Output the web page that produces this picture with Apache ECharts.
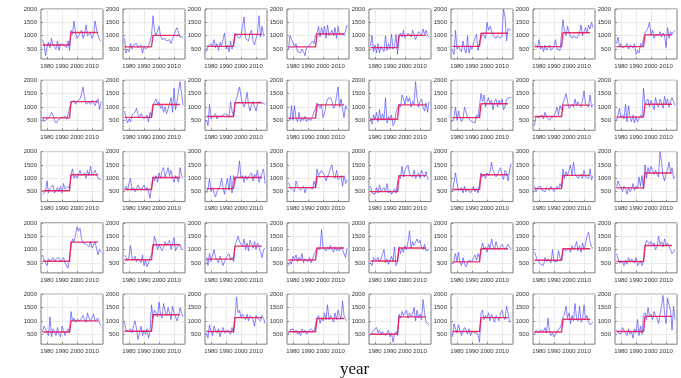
<!DOCTYPE html>
<html>
<head>
<meta charset="UTF-8">
<script src="https://cdn.jsdelivr.net/npm/echarts@6/dist/echarts.min.js"></script>
<style>
  html, body { margin: 0; padding: 0; background: #fff; }
  #chart { width: 681px; height: 378px; }
</style>
</head>
<body>
<div id="chart"></div>
<script>
// years of the annual series
const years = [];
for (let y = 1977; y <= 2016; y++) years.push(y);

const xTicks = [1980, 1990, 2000, 2010];
const yTicks = [500, 1000, 1500, 2000];

// annual values, one list per panel (row by row, 8 panels per row)
const p01 = [850,700,250,600,750,550,900,650,700,500, 800,450,700,750,650,700,550,800,450,1200, 1050,1550,1100,900,1000,950,1200,900,1050,1400, 1000,950,1100,900,1000,1550,1250,1000,850,800];
const p02 = [900,350,500,400,700,500,650,600,700,550, 500,650,350,600,500,450,600,550,1000,1750, 1200,1000,1050,1350,1000,850,800,900,800,750, 850,700,900,1000,1200,1300,1250,950,1000,950];
const p03 = [400,600,650,700,600,850,550,700,450,750, 600,650,1100,500,650,400,800,500,700,1100, 1000,1050,900,1000,1000,1700,900,850,800,1100, 1200,800,650,900,1100,1750,950,1350,1000,1050];
const p04 = [500,1000,850,750,600,700,400,450,350,500, 400,250,550,500,650,600,800,700,1000,1100, 1350,950,1300,1050,1350,900,1400,1000,1050,1200, 1000,1300,900,1350,1050,1000,1100,1000,1200,1400];
const p05 = [600,1000,400,650,350,700,350,600,650,400, 1000,450,700,500,1050,500,600,1050,300,1000, 1100,950,1200,900,1000,1100,1150,950,1200,1050, 850,1000,1150,1100,1000,1250,1050,1200,1000,950];
const p06 = [450,300,1200,500,600,550,400,800,500,350, 1000,350,600,500,450,900,1050,450,800,900, 1100,1000,900,1500,1200,1350,1300,1000,950,900, 1000,950,900,1000,2000,1700,800,1250,1300,1200];
const p07 = [700,750,550,850,500,600,400,650,450,500, 650,450,500,600,850,500,550,450,1050,1600, 1150,1000,1350,1100,1050,900,1000,950,900,950, 1100,1400,1000,1150,1300,1100,1400,1250,1500,1300];
const p08 = [700,950,600,700,550,500,600,700,500,650, 600,550,700,300,450,350,700,600,900,1100, 1050,1300,1500,1000,1200,900,1050,1100,1000,1150, 950,1100,1000,550,1300,900,1150,1050,1150,1200];

const p09 = [600,450,500,550,600,650,800,700,500,400, 350,550,500,600,550,650,550,700,650,1150, 1200,1250,1100,1200,1250,1300,1500,1750,1350,1100, 1150,1200,1100,1250,1150,1050,1200,1300,900,1200];
const p10 = [850,600,400,550,450,700,650,800,950,700, 600,750,650,550,500,700,450,800,600,1050, 1200,1300,1100,1200,950,1050,800,1000,750,800, 1100,1350,800,1700,900,1200,1600,1950,1500,1050];
const p11 = [500,300,1100,550,650,600,750,550,650,700, 650,600,750,800,700,600,1200,850,650,1200, 1300,1550,1750,1400,1150,1000,1200,1550,1100,850, 1100,1200,1000,850,1100,1200,1150,1150,1100,1100];
const p12 = [600,500,1050,500,1050,550,450,800,450,600, 500,650,450,550,600,500,650,600,950,1150, 1100,950,1100,600,750,1100,1300,1250,1350,1200, 950,1050,1400,1750,1000,1300,1350,600,1050,900];
const p13 = [600,350,700,550,800,450,900,500,750,500, 1350,400,650,500,700,300,400,800,850,1100, 1000,1450,1300,1100,1400,1200,1350,1000,1200,1100, 1950,1350,1000,1200,1300,1000,850,1150,800,1200];
const p14 = [450,600,1000,500,850,600,450,550,1000,800, 650,550,600,450,500,400,700,600,550,1500, 1200,1450,1000,1200,1350,1100,1250,900,1200,1300, 1000,1250,1100,1300,900,1000,1300,1250,1350,1350];
const p15 = [300,650,700,600,650,700,550,800,650,700, 500,600,550,650,800,1000,700,1050,900,1150, 1300,1500,1200,950,1000,1100,1000,1300,1050,1200, 1100,1000,1250,1600,1100,1050,1000,1450,1000,1100];
const p16 = [500,700,950,600,700,550,1100,450,1050,600, 450,700,400,650,450,550,700,600,1700,1100, 1200,1300,1000,1250,1100,900,1350,1100,1000,1300, 1150,950,1400,1100,1300,1000,1200,1350,1200,1050];

const p17 = [400,450,500,900,450,600,550,750,450,550, 650,500,700,450,800,600,550,700,600,1150, 1350,1000,1100,1000,1150,1300,1100,1050,1200,1000, 1300,1100,1450,1100,1200,1300,1150,1000,950,950];
const p18 = [600,700,550,800,1000,550,650,500,600,750, 800,550,600,750,550,650,500,250,700,1050, 900,1100,850,1200,1000,1300,1400,1050,1200,1400, 1100,1300,1000,850,1100,1000,850,1400,1100,1000];
const p19 = [450,600,1000,500,650,450,300,500,450,700, 1000,650,400,750,1000,550,1100,450,1100,900, 1050,1150,1650,1000,1100,850,1100,950,1050,1000, 1200,900,1150,1050,1300,850,1050,1000,1350,800];
const p20 = [850,700,600,650,500,900,700,650,550,600, 700,450,650,600,650,700,600,900,650,1350, 1100,1050,1300,1200,1100,900,1050,1200,1400,1500, 1100,1000,1300,950,900,1100,700,1100,800,950];
const p21 = [700,450,500,400,650,450,750,500,450,650, 500,800,450,550,400,350,600,450,850,1100, 1000,1450,1050,1300,1250,1500,1150,1200,1050,1300, 1000,1050,1200,1000,1300,1150,1050,1250,1000,950];
const p22 = [500,550,1200,800,550,600,650,450,700,500, 600,650,450,550,700,500,600,450,800,1200, 1050,1150,1000,1200,1100,1250,1600,1300,1350,1050, 1150,1200,1400,1100,950,1300,1200,900,1300,1550];
const p23 = [700,500,650,600,700,550,600,500,650,600, 550,700,650,500,450,700,600,800,650,1350, 1000,1250,1100,1300,1500,1100,1600,1150,1100,1000, 950,1150,1000,1300,1050,1100,1000,1350,950,1100];
const p24 = [650,900,750,800,500,700,600,400,650,500, 600,800,550,700,600,1050,700,1100,600,1500, 1000,1400,1200,1450,1300,1150,1300,1350,1050,2000, 1600,1100,900,1200,1300,1600,1200,1400,1000,1050];

const p25 = [800,600,650,400,650,550,600,700,550,650, 600,700,550,600,700,500,450,300,650,1100, 1400,1300,1550,1850,1700,1800,1400,1250,1300,1200, 1150,1100,1300,1050,1000,1300,1250,800,1000,900];
const p26 = [800,700,600,750,1150,700,600,750,550,650, 700,500,800,400,600,350,500,700,800,1100, 1500,1300,1000,1200,1150,950,1050,1300,1150,1100, 1350,1000,1200,1450,950,1100,1150,1200,1000,1000];
const p27 = [700,400,850,550,600,1000,700,650,500,750, 600,400,550,700,650,850,600,700,550,1150, 1100,1500,1300,1200,1100,1400,1000,1250,950,1350, 1200,1050,1300,1000,1250,1100,1150,700,1000,1050];
const p28 = [400,550,450,750,650,800,550,700,600,850, 500,650,600,550,700,500,650,800,750,1050, 1100,1000,1750,1050,1000,950,1100,1000,1150,1000, 900,1100,950,1050,950,1100,1000,1050,700,1050];
const p29 = [500,400,700,650,600,700,550,650,600,1000, 500,650,450,600,750,550,1100,400,550,1100, 850,1050,900,1150,1000,1300,1700,1050,1300,1150, 1200,1400,1250,1350,1100,1000,1200,950,1000,1000];
const p30 = [450,600,850,550,900,500,400,700,450,350, 500,600,650,550,700,800,600,850,700,1000, 1250,1000,1100,900,1200,1050,1400,1150,1000,1300, 1100,1000,1050,1200,1150,1000,1100,1200,1100,1000];
const p31 = [900,750,600,650,450,500,400,700,550,650, 600,500,1000,550,600,550,950,700,600,1050, 1100,950,1000,1050,900,1150,1000,1100,1300,950, 1150,900,1250,1000,1200,1500,1650,1300,1100,1050];
const p32 = [850,800,500,450,550,400,600,450,700,550, 650,600,500,700,400,450,550,400,600,1150, 1350,1400,1200,1300,1150,1250,1000,1100,1500,1200, 1300,1100,1400,1150,1250,1100,1000,850,900,1000];

const p33 = [600,800,700,550,450,1150,400,700,600,450, 750,500,400,800,650,450,400,700,550,1350, 1000,1100,950,1050,1100,1000,1100,1200,1050,950, 1300,1100,1000,1050,1250,1000,1050,1100,900,800];
const p34 = [950,650,700,600,700,550,800,1000,700,300, 550,800,450,650,500,700,350,600,1600,1100, 1400,1300,1150,1700,1250,1100,1650,1400,1200,1500, 1300,1050,1550,1300,1250,1000,1200,1500,1300,1150];
const p35 = [550,350,850,600,450,800,650,550,700,400, 600,750,550,500,650,700,500,750,550,1150, 1900,1300,1400,1100,1250,1200,1050,1250,1000,1200, 1150,1050,800,1200,1100,1150,1000,1200,1100,900];
const p36 = [500,650,600,700,550,650,500,600,450,700, 550,650,500,600,550,700,650,600,850,1100, 1200,900,1100,1000,1300,1050,1600,1050,1200,1150, 950,1300,1050,1400,1200,1100,1750,1200,1050,1000];
const p37 = [450,400,650,700,750,550,650,500,600,550, 450,500,650,400,550,200,500,600,450,1250, 1100,1350,1200,1250,1400,1100,1300,1150,1250,1500, 1000,1400,1100,1250,1050,1800,1300,950,900,850];
const p38 = [400,900,700,550,850,900,450,600,750,650, 500,700,450,600,650,550,600,500,200,1300, 1400,1050,1200,1100,1300,1000,1250,1200,950,1200, 1100,1000,1300,1400,1150,1050,1550,1300,950,1000];
const p39 = [500,650,600,550,650,700,600,750,550,1100, 600,450,550,400,500,600,650,750,900,1150, 1250,1550,1100,1300,900,1200,1000,1650,1100,1000, 1550,950,1050,1600,1100,1200,950,850,900,950];
const p40 = [650,550,600,500,750,800,550,450,700,500, 600,350,700,550,1050,450,800,500,1200,1300, 1050,1500,1150,1250,1050,1350,1200,1100,900,1250, 1550,1950,1300,900,1850,1600,1400,650,1550,1050];

const panels = [p01,p02,p03,p04,p05,p06,p07,p08,p09,p10,p11,p12,p13,p14,p15,p16,p17,p18,p19,p20,
                p21,p22,p23,p24,p25,p26,p27,p28,p29,p30,p31,p32,p33,p34,p35,p36,p37,p38,p39,p40];

// fitted mean before / after the shift, per panel
const meanBefore = [650,580,600,580,550,600,590,590, 590,610,640,580,540,600,640,620,
                    530,580,610,650,500,580,610,640, 560,620,640,610,570,540,600,550,
                    580,610,600,590,500,600,580,600];
const meanAfter  = [1120,1010,1050,1060,1010,1090,1110,1030, 1200,1090,1160,1080,1080,1120,1070,1100,
                    1130,1030,1030,1060,1100,1130,1110,1200, 1280,1180,1130,1060,1060,1030,1030,1150,
                    1000,1230,1120,1090,1150,1120,1060,1170];
const fitStart = 1977, lastBefore = 1995, firstAfter = 1996, fitEnd = 2014;

const grids = [], xAxes = [], yAxes = [], series = [];
const labelFont = { fontSize: 6, color: '#333', fontFamily: 'Liberation Sans', formatter: v => String(v) };

panels.forEach((vals, i) => {
    const r = Math.floor(i / 8), c = i % 8;
    grids.push({
        left: 41 + c * 82, top: 9 + r * 71.3, width: 62, height: 50,
        show: true, borderColor: '#7a7a7a', borderWidth: 1, backgroundColor: '#fff'
    });
    xAxes.push({
        gridIndex: i, type: 'value', min: 1976, max: 2017.3,
        axisLine: { show: false },
        axisTick: { show: true, inside: true, length: 2, lineStyle: { color: '#888' }, customValues: xTicks },
        axisLabel: Object.assign({ margin: 4, customValues: xTicks }, labelFont),
        splitLine: { show: true, lineStyle: { color: '#e6e6e6', width: 0.8 } }
    });
    yAxes.push({
        gridIndex: i, type: 'value', min: 125, max: 2000,
        axisLine: { show: false },
        axisTick: { show: true, inside: true, length: 2, lineStyle: { color: '#888' }, customValues: yTicks },
        axisLabel: Object.assign({ margin: 4, customValues: yTicks }, labelFont),
        splitLine: { show: true, lineStyle: { color: '#e6e6e6', width: 0.8 } }
    });
    series.push({
        type: 'line', xAxisIndex: i, yAxisIndex: i,
        data: years.map((y, k) => [y, vals[k]]),
        showSymbol: false, silent: true,
        lineStyle: { color: '#4040ff', width: 0.8, opacity: 0.8 }
    });
    series.push({
        type: 'line', xAxisIndex: i, yAxisIndex: i,
        data: [[fitStart, meanBefore[i]], [lastBefore, meanBefore[i]],
               [firstAfter, meanAfter[i]], [fitEnd, meanAfter[i]]],
        showSymbol: false, silent: true,
        lineStyle: { color: '#e8185a', width: 1.4, opacity: 0.9 }
    });
});

const chart = echarts.init(document.getElementById('chart'));
chart.setOption({
    animation: false,
    backgroundColor: '#fff',
    grid: grids,
    xAxis: xAxes,
    yAxis: yAxes,
    series: series,
    graphic: [{
        type: 'text', left: 340, top: 361,
        style: { text: 'year', fontSize: 17, fontFamily: 'Liberation Serif', fill: '#111' }
    }]
});
</script>
</body>
</html>
